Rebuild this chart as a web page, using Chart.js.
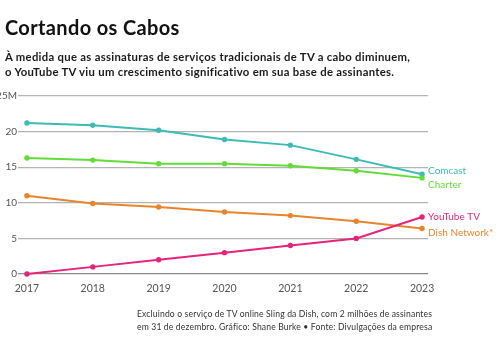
<!DOCTYPE html>
<html>
<head>
<meta charset="utf-8">
<script src="https://cdn.jsdelivr.net/npm/chart.js@4/dist/chart.umd.min.js"></script>
<style>
  html, body { margin: 0; padding: 0; background: #fff; }
  #wrap { position: relative; width: 500px; height: 350px; overflow: hidden; font-family: Lato, "Noto Sans", sans-serif; }
  canvas { position: absolute; left: 0; top: 0; }
  .t { position: absolute; white-space: nowrap; color: #111; }
  #title { left: 5px; top: 15px; font-size: 20px; font-weight: 700; letter-spacing: 0.35px; }
  #sub { left: 5px; top: 49px; font-size: 11.3px; font-weight: 700; line-height: 15px; color: #1a1a1a; letter-spacing: 0.3px; }
  #note { left: 137px; top: 308px; font-size: 8.6px; line-height: 12.5px; color: #333; letter-spacing: 0.15px; }
</style>
</head>
<body>
<div id="wrap">
  <canvas id="c" width="500" height="350"></canvas>
  <div class="t" id="title">Cortando os Cabos</div>
  <div class="t" id="sub">À medida que as assinaturas de serviços tradicionais de TV a cabo diminuem,<br>o YouTube TV viu um crescimento significativo em sua base de assinantes.</div>
  <div class="t" id="note">Excluindo o serviço de TV online Sling da Dish, com 2 milhões de assinantes<br>em 31 de dezembro. Gráfico: Shane Burke • Fonte: Divulgações da empresa</div>
</div>
<script>
const years = [2017, 2018, 2019, 2020, 2021, 2022, 2023];
const comcast = [21.2, 20.9, 20.2, 18.9, 18.1, 16.1, 14.0];
const charter = [16.3, 16.0, 15.5, 15.5, 15.2, 14.5, 13.5];
const dish = [11.0, 9.9, 9.4, 8.7, 8.2, 7.4, 6.4];
const youtube = [0, 1, 2, 3, 4, 5, 8];
const yTicks = [0, 5, 10, 15, 20, 25];
const yTickLabels = ['0', '5', '10', '15', '20', '25M'];

const seriesNames = ['Comcast', 'Charter', 'Dish Network*', 'YouTube TV'];
const seriesColors = ['#3cbcb4', '#62dc38', '#e8852c', '#e5247a'];
const labelOffsets = [-4, 7, 4, 0];

function pts(vals) { return vals.map((v, i) => ({ x: years[i], y: v })); }

const endLabels = {
  id: 'endLabels',
  afterDatasetsDraw(chart) {
    const ctx = chart.ctx;
    ctx.save();
    ctx.font = '10px Lato, "Noto Sans", sans-serif';
    ctx.textBaseline = 'middle';
    ctx.textAlign = 'left';
    chart.data.datasets.forEach((ds, i) => {
      const meta = chart.getDatasetMeta(i);
      const p = meta.data[meta.data.length - 1];
      ctx.fillStyle = ds.labelColor;
      ctx.fillText(ds.label, p.x + 6, p.y + ds.labelOffset);
    });
    ctx.restore();
  }
};

const datasets = [comcast, charter, dish, youtube].map((vals, i) => ({
  label: seriesNames[i],
  data: pts(vals),
  borderColor: seriesColors[i],
  backgroundColor: seriesColors[i],
  labelColor: seriesColors[i],
  labelOffset: labelOffsets[i],
  borderWidth: 2,
  pointRadius: 1.7,
  pointHoverRadius: 1.7,
  tension: 0,
  clip: false
}));
datasets.forEach((d, i) => d.order = 4 - i);

new Chart(document.getElementById('c'), {
  type: 'line',
  data: { datasets },
  plugins: [endLabels],
  options: {
    responsive: false,
    animation: false,
    events: [],
    layout: { padding: { top: 96, right: 72, left: 0, bottom: 0 } },
    plugins: { legend: { display: false }, tooltip: { enabled: false } },
    scales: {
      x: {
        type: 'linear',
        min: 2016.91,
        max: 2023.09,
        afterBuildTicks(s) { s.ticks = years.map(v => ({ value: v })); },
        afterFit(s) { s.height = 76; },
        grid: { display: false, drawTicks: false },
        border: { display: false },
        ticks: {
          padding: 8,
          color: '#555',
          font: { size: 10.5, family: 'Lato, "Noto Sans", sans-serif' },
          callback: v => String(v),
          maxRotation: 0,
          autoSkip: false
        }
      },
      y: {
        min: 0,
        max: 25,
        afterBuildTicks(s) { s.ticks = yTicks.map(v => ({ value: v })); },
        afterFit(s) { s.width = 21; },
        border: { display: false },
        grid: {
          color: ctx => ctx.tick && ctx.tick.value === 0 ? '#8a8a8a' : '#b4b4b4',
          lineWidth: 1.3,
          drawTicks: true,
          tickLength: 3
        },
        ticks: {
          padding: 1,
          color: '#555',
          font: { size: 10, family: 'Lato, "Noto Sans", sans-serif' },
          callback: (v) => yTickLabels[yTicks.indexOf(v)]
        }
      }
    }
  }
});
</script>
</body>
</html>
